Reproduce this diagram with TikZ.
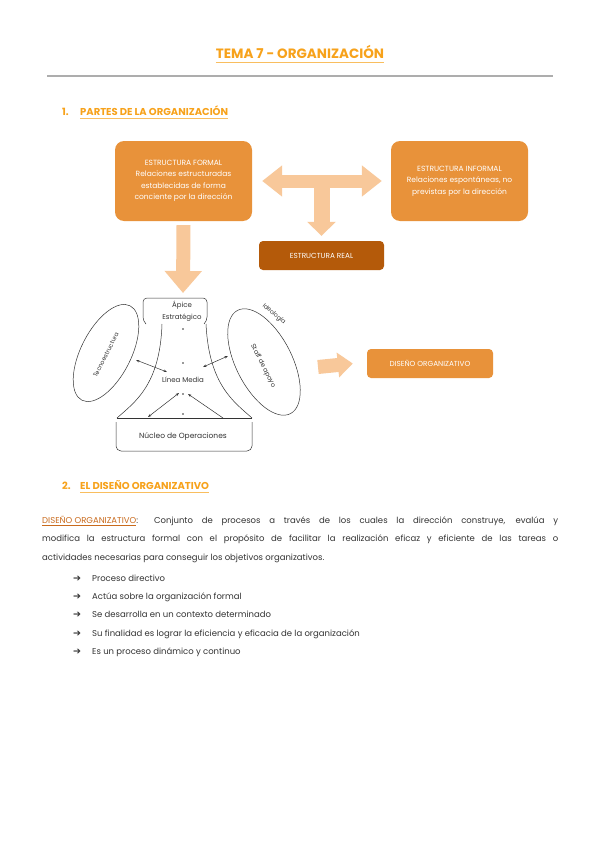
\documentclass[tikz,border=0pt]{standalone}
\usepackage{fontspec}
\setmainfont{Poppins}
\newfontfamily\symfont{DejaVu Sans}
\usetikzlibrary{arrows.meta}
\definecolor{titleorange}{HTML}{F7A21B}
\definecolor{boxorange}{HTML}{E8923A}
\definecolor{peach}{HTML}{F8C89A}
\definecolor{darkorange}{HTML}{B45A0A}
\definecolor{linkorange}{HTML}{C96A1C}
\definecolor{bodytext}{HTML}{333333}

\begin{document}
\begin{tikzpicture}[x=1pt,y=-1pt,
    orangebox/.style={fill=boxorange, rounded corners=9pt, text=white, align=center,
      inner sep=0pt, font=\fontsize{7.5}{11.5}\selectfont},
    smallbox/.style={fill=#1, rounded corners=4pt, text=white, inner sep=0pt,
      font=\fontsize{7.3}{9}\selectfont},
    blockarrow/.style={draw=peach, line width=#1},
    mintz/.style={draw=bodytext, line width=0.5pt},
    mintzarrow/.style={mintz, {Stealth[length=3.5pt,width=2.5pt]}-{Stealth[length=3.5pt,width=2.5pt]}},
    mintztext/.style={text=bodytext, inner sep=0pt, align=center, font=\fontsize{7}{11.5}\selectfont},
    heading/.style={text=titleorange, inner sep=0pt, anchor=base west, font=\fontsize{10}{12}\bfseries}]
  \useasboundingbox[fill=white] (0,0) rectangle (600,848);

  % title and rule
  \node[text=titleorange, inner sep=0pt, anchor=base, font=\fontsize{13.5}{16}\bfseries] (title) at (300,59) {TEMA 7 - ORGANIZACIÓN};
  \draw[titleorange!70, line width=1.3pt] ([yshift=-3.5pt]title.base west) -- ([yshift=-3.5pt]title.base east);
  \draw[black!32, line width=1.5pt] (47,76) -- (553,76);

  % 1. partes de la organizacion
  \node[heading] at (62,116) {1.};
  \node[heading] (sec1) at (80,116) {PARTES DE LA ORGANIZACIÓN};
  \draw[titleorange!70, line width=1pt] ([yshift=-3pt]sec1.base west) -- ([yshift=-3pt]sec1.base east);

  \node[orangebox, minimum width=137pt, minimum height=80pt] (formal) at (183.5,181)
    {ESTRUCTURA FORMAL\\Relaciones estructuradas\\establecidas de forma\\conciente por la dirección};
  \node[orangebox, minimum width=137pt, minimum height=80pt] (informal) at (459.5,181)
    {ESTRUCTURA INFORMAL\\Relaciones espontáneas, no\\previstas por la dirección};
  \node[smallbox=darkorange, minimum width=125pt, minimum height=29pt] (real) at (321.5,255.5) {ESTRUCTURA REAL};
  \node[smallbox=boxorange, minimum width=126pt, minimum height=29pt] (diseno) at (430,363.5) {DISEÑO ORGANIZATIVO};

  \coordinate (tjoin) at (321.5,181);
  \draw[blockarrow=13pt, {Triangle[length=20pt,width=30pt]}-{Triangle[length=20pt,width=30pt]}]
    ([xshift=10pt]formal.east) -- ([xshift=-9pt]informal.west);
  \draw[blockarrow=16pt, -{Triangle[length=14pt,width=28pt]}] (tjoin) -- ([yshift=5pt]real.north);

  % Mintzberg
  \node[mintztext] (apex) at (182,311) {Ápice\\Estratégico};
  \draw[mintz, rounded corners=4pt] (146,324) -- (143,321) -- (143,298) -- (207,298) -- (207,321) -- (204,324);
  \draw[blockarrow=14pt, -{Triangle[length=22pt,width=36pt]}] ([yshift=-4pt]formal.south) -- (183,293);
  \draw[mintz] (162,324) .. controls (160,385) and (135,402) .. (117,418);
  \draw[mintz] (206,324) .. controls (209,385) and (234,402) .. (252,418);
  \draw[mintz] (117,418) -- (252,418);
  \draw[mintz, rounded corners=5pt] (116,422) -- (116,451) -- (252,451) -- (252,422);
  \node[mintztext] (linea) at (183,380) {Línea Media};
  \node[mintztext, font=\fontsize{7.5}{9}\selectfont] (nucleo) at (183,437) {Núcleo de Operaciones};
  \foreach \y in {329,363,394,414}
    \fill[bodytext] (183,\y) circle (0.9);

  \draw[mintz, rotate around={63:(106,353)}] (106,353) ellipse (53 and 25);
  \draw[mintz, rotate around={-63:(264,362)}] (264,362) ellipse (58 and 28);
  \node[text=bodytext, inner sep=0pt, rotate=63, font=\fontsize{6}{7}\selectfont] (tecno) at (106,355) {Tecnoestructura};
  \node[text=bodytext, inner sep=0pt, rotate=-63, font=\fontsize{6.5}{7}\selectfont] (staff) at (263,366) {Staff de apoyo};
  \node[text=bodytext, inner sep=0pt, rotate=-40, font=\fontsize{6}{7}\selectfont] (ideo) at (274,314) {Ideología};

  \coordinate (tecnoend) at (136,360);
  \coordinate (linealeft) at (167,372);
  \coordinate (staffend) at (228,356);
  \coordinate (linearight) at (203,367);
  \coordinate (baseleft) at (148,417);
  \coordinate (baseright) at (223,418);
  \coordinate (coreleft) at (179,393);
  \coordinate (coreright) at (188,394);
  \coordinate (staffright) at (318,367);
  \draw[mintzarrow] (tecnoend) -- (linealeft);
  \draw[mintzarrow] (staffend) -- (linearight);
  \draw[mintzarrow] (baseleft) -- (coreleft);
  \draw[mintz, -{Stealth[length=3.5pt,width=2.5pt]}] (baseright) -- (coreright);

  \draw[blockarrow=14pt, -{Triangle[length=15pt,width=24pt]}] (staffright) -- ([xshift=-14pt]diseno.west);

  % 2. el diseno organizativo
  \node[heading] at (62,489) {2.};
  \node[heading] (sec2) at (80,489) {EL DISEÑO ORGANIZATIVO};
  \draw[titleorange!70, line width=1pt] ([yshift=-3pt]sec2.base west) -- ([yshift=-3pt]sec2.base east);

  \node[anchor=north west, inner sep=0pt, text width=516pt, align=justify, text=bodytext,
    font=\fontsize{8.5}{18.5}\selectfont] (def) at (42,516)
    {{\color{linkorange}\underline{DISEÑO ORGANIZATIVO}}: Conjunto de procesos a través de los cuales la dirección construye, evalúa y\linebreak
     modifica la estructura formal con el propósito de facilitar la realización eficaz y eficiente de las tareas o\linebreak
     actividades necesarias para conseguir los objetivos organizativos.};

  \foreach \t [count=\i] in {Proceso directivo, Actúa sobre la organización formal,
      Se desarrolla en un contexto determinado,
      Su finalidad es lograr la eficiencia y eficacia de la organización,
      Es un proceso dinámico y continuo}{
    \node[anchor=base west, inner sep=0pt, text=bodytext, font=\symfont\fontsize{9.5}{10}\selectfont] at (73,{581.5+(\i-1)*18.2}) {➔};
    \node[anchor=base west, inner sep=0pt, text=bodytext, font=\fontsize{8.5}{9}\selectfont] at (92,{581.5+(\i-1)*18.2}) {\t};
  }
\end{tikzpicture}
\end{document}
